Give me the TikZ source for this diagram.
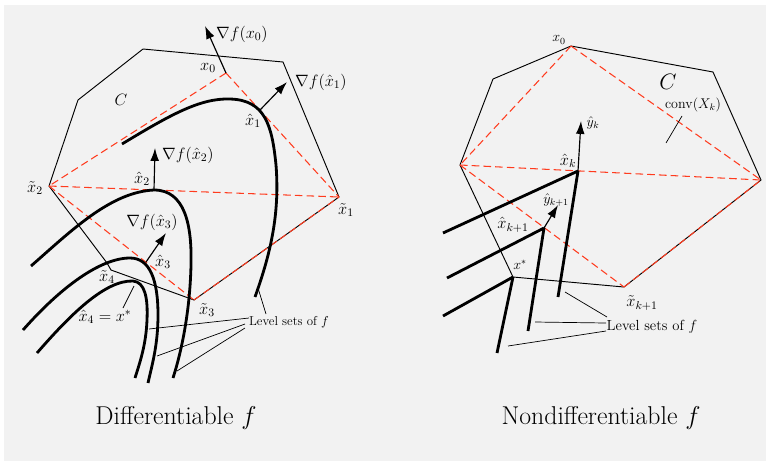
\RequirePackage{fix-cm}
\documentclass[tikz,border=0pt]{standalone}
\usetikzlibrary{arrows.meta}
\definecolor{bgc}{HTML}{F2F2F2}
\definecolor{reddash}{HTML}{FF3B1E}
\tikzset{
  poly/.style={line width=0.8pt, line join=miter},
  rdash/.style={draw=reddash, line width=0.9pt, dash pattern=on 6.5pt off 3.5pt},
  lvl/.style={line width=2.4pt, line cap=butt},
  grad/.style={line width=1pt, -{Latex[length=11pt,width=7.5pt]}},
  lead/.style={line width=0.6pt},
  lbl/.style={inner sep=0pt, font=\fontsize{14}{16}\selectfont},
  lbls/.style={inner sep=0pt, font=\fontsize{12}{14}\selectfont},
  lvltxt/.style={inner sep=0pt, font=\fontsize{11}{13}\selectfont},
  title/.style={inner sep=0pt, font=\fontsize{22}{26}\selectfont}
}
\begin{document}
\begin{tikzpicture}[x=0.03cm,y=-0.03cm]
\useasboundingbox (0,0) rectangle (767,464);
\fill[bgc] (4,5) rectangle (766,461);

% ---------------- left diagram ----------------
\coordinate (LA) at (49,186);   % x2 tilde
\coordinate (LB) at (107,263);
\coordinate (LC) at (111,270);  % x4 tilde
\coordinate (LD) at (194,300);  % x3 tilde
\coordinate (LE) at (339,197);  % x1 tilde
\coordinate (LF) at (283,62);
\coordinate (LG) at (143,49);
\coordinate (LH) at (78,100);
\coordinate (X0) at (226,73);
\coordinate (XH1) at (260,110);
\coordinate (XH2) at (154,190);
\coordinate (XH3) at (146,262);
\coordinate (G0) at (205,26);
\coordinate (G1) at (287,82);
\coordinate (G2) at (155,148);
\coordinate (G3) at (166,233);

\draw[poly] (LA) -- (LB) -- (LC) -- (LD) -- (LE) -- (LF) -- (LG) -- (LH) -- cycle;
\draw[rdash] (X0) -- (LA);
\draw[rdash] (X0) -- (LE);
\draw[rdash] (LA) -- (LE);
\draw[rdash] (LA) -- (LD);
\draw[rdash] (LD) -- (LE);

% level sets
\draw[lvl] (122,144) .. controls (170,115) and (200,98) .. (230,99)
  .. controls (265,100) and (272,125) .. (276,165)
  .. controls (280,215) and (270,255) .. (255,297);
\draw[lvl] (31,266) .. controls (70,232) and (110,192) .. (154,190)
  .. controls (185,190) and (192,225) .. (191,265)
  .. controls (190,310) and (182,350) .. (173,378);
\draw[lvl] (23,330) .. controls (60,288) and (100,258) .. (130,258)
  .. controls (150,258) and (158,280) .. (158,315)
  .. controls (158,345) and (152,365) .. (148,383);
\draw[lvl] (37,353) .. controls (70,315) and (105,280) .. (133,281)
  .. controls (145,282) and (148,298) .. (147,320)
  .. controls (146,345) and (140,362) .. (135,378);

\draw[grad] (X0) -- (G0);
\draw[grad] (XH1) -- (G1);
\draw[grad] (XH2) -- (G2);
\draw[grad] (XH3) -- (G3);

\node[lbl, anchor=west] (lg0) at (216,34) {$\nabla f(x_0)$};
\node[lbl] (lx0) at (208,68) {$x_0$};
\node[lbl, anchor=west] (lg1) at (295,82) {$\nabla f(\hat{x}_1)$};
\node[lbl] (lxh1) at (253,121) {$\hat{x}_1$};
\node[lbl, anchor=west] (lg2) at (162,155) {$\nabla f(\hat{x}_2)$};
\node[lbl] (lxh2) at (142,179) {$\hat{x}_2$};
\node[lbl] (lg3) at (152,222) {$\nabla f(\hat{x}_3)$};
\node[lbl] (lxh3) at (163,262) {$\hat{x}_3$};
\node[lbl] (lxt1) at (346,210) {$\tilde{x}_1$};
\node[lbl] (lxt2) at (35,188) {$\tilde{x}_2$};
\node[lbl] (lxt3) at (207,310) {$\tilde{x}_3$};
\node[lbl] (lxt4) at (107,277) {$\tilde{x}_4$};
\node[lbl] (lC) at (121,100) {$C$};
\node[lbl] (lxstar) at (105,317) {$\hat{x}_4 = x^*$};
\node[lvltxt] (llvl) at (289,322) {Level sets of $f$};

\coordinate (q1a) at (123,308);
\coordinate (q1b) at (134,286);
\draw[lead] (q1a) -- (q1b);
\coordinate (m0a) at (266,314);
\coordinate (m0b) at (258,288);
\coordinate (m1a) at (249,318);
\coordinate (m1b) at (149,329);
\coordinate (m2a) at (245,324);
\coordinate (m2b) at (157,356);
\coordinate (m3a) at (245,328);
\coordinate (m3b) at (177,371);
\draw[lead] (m0a) -- (m0b);
\draw[lead] (m1a) -- (m1b);
\draw[lead] (m2a) -- (m2b);
\draw[lead] (m3a) -- (m3b);

\node[title] (tl) at (176,418) {Differentiable $f$};

% ---------------- right diagram ----------------
\coordinate (RA) at (571,46);  % x0
\coordinate (RB) at (713,72);
\coordinate (RC) at (761,180);
\coordinate (RD) at (624,287); % x tilde k+1
\coordinate (RE) at (513,277); % x*
\coordinate (RF) at (460,165);
\coordinate (RG) at (493,79);
\coordinate (XK) at (578,171);
\coordinate (XK1) at (544,228);
\coordinate (YK) at (581,121);
\coordinate (YK1) at (558,205);

\draw[poly] (RA) -- (RB) -- (RC) -- (RD) -- (RE) -- (RF) -- (RG) -- cycle;
\draw[rdash] (RA) -- (RF);
\draw[rdash] (RA) -- (RC);
\draw[rdash] (RF) -- (RC);
\draw[rdash] (RF) -- (RD);
\draw[rdash] (RD) -- (RC);

\coordinate (k1) at (443,233);
\coordinate (k2) at (558,297);
\coordinate (k3) at (447,278);
\coordinate (k4) at (528,331);
\coordinate (k5) at (443,316);
\coordinate (k6) at (497,353);
\draw[lvl] (XK) -- (k1);
\draw[lvl] (XK) -- (k2);
\draw[lvl] (XK1) -- (k3);
\draw[lvl] (XK1) -- (k4);
\draw[lvl] (RE) -- (k5);
\draw[lvl] (RE) -- (k6);

\draw[grad] (XK) -- (YK);
\draw[grad] (XK1) -- (YK1);

\node[lbls] (rx0) at (559,40) {$x_0$};
\node[inner sep=0pt, font=\fontsize{19}{22}\selectfont] (rC) at (668,82) {$C$};
\node[lbls] (rconv) at (693,105) {$\mathrm{conv}(X_k)$};
\coordinate (c1) at (682,116);
\coordinate (c2) at (666,143);
\draw[lead] (c1) -- (c2);
\node[lbls] (ryk) at (593,123) {$\hat{y}_k$};
\node[lbl] (rxk) at (568,161) {$\hat{x}_k$};
\node[lbls] (ryk1) at (556,200) {$\hat{y}_{k+1}$};
\node[lbl] (rxk1) at (513,225) {$\hat{x}_{k+1}$};
\node[lbls] (rxs) at (520,265) {$x^*$};
\node[lbl] (rxt) at (642,303) {$\tilde{x}_{k+1}$};
\node[lvltxt, font=\fontsize{12.5}{14}\selectfont] (rlvl) at (652,327) {Level sets of $f$};
\coordinate (n1a) at (607,317);
\coordinate (n1b) at (565,292);
\coordinate (n2a) at (606,323);
\coordinate (n2b) at (535,322);
\coordinate (n3a) at (606,331);
\coordinate (n3b) at (508,346);
\draw[lead] (n1a) -- (n1b);
\draw[lead] (n2a) -- (n2b);
\draw[lead] (n3a) -- (n3b);

\node[title] (tr) at (601,418) {Nondifferentiable $f$};
\end{tikzpicture}
\end{document}
